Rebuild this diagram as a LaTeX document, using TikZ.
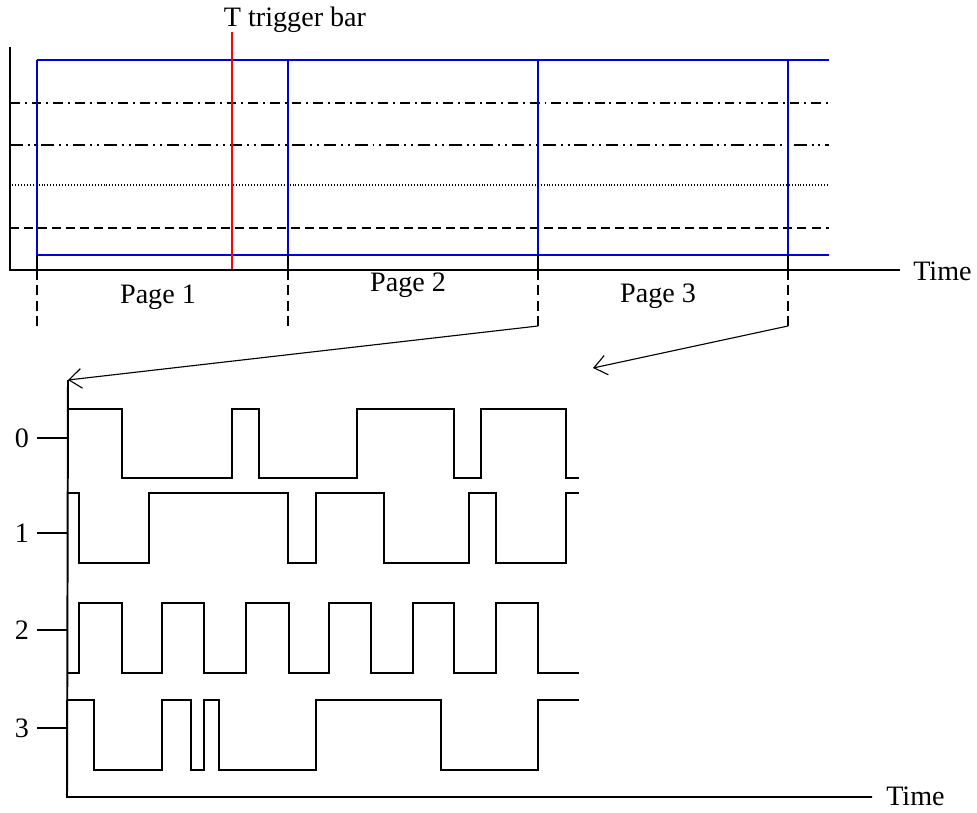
\documentclass[tikz,border=0pt]{standalone}
\usepackage{fontspec}
\setmainfont{Liberation Serif}
\usetikzlibrary{arrows.meta}

\tikzset{
    axe/.style={line width=1.4pt, black},
    page/.style={line width=1pt, blue!85!black},
    signal/.style={line width=1.4pt, black},
    repere/.style={line width=1.4pt, dash pattern=on 7pt off 4pt},
    fleche/.style={line width=0.8pt, -{Straight Barb[length=9pt,width=14pt,line width=0.8pt]}},
    label/.style={font=\fontsize{20}{24}\selectfont, inner sep=0pt}
}

\begin{document}
\begin{tikzpicture}[x=0.025cm, y=-0.025cm]
    \useasboundingbox (0,0) rectangle (977,813);

    % ecran du haut
    \draw[line width=1.4pt, dash pattern=on 7pt off 3.5pt on 1.4pt off 3.5pt] (10,103) -- (829,103);
    \draw[line width=1.4pt, dash pattern=on 9pt off 3.5pt on 1.4pt off 3.5pt on 1.4pt off 3.5pt] (10,145) -- (829,145);
    \draw[line width=0.8pt, dash pattern=on 0.7pt off 1.4pt] (12,185) -- (829,185);
    \draw[line width=1.4pt, dash pattern=on 6.4pt off 3.6pt] (10,228) -- (829,228);

    \draw[page] (37,60) -- (829,60);
    \draw[page] (37,255) -- (829,255);
    \foreach \x/\n in {37/a, 288/b, 538/c, 788/d}
    {
        \draw[page] (\x,60) -- (\x,255);
        \draw[axe] (\x,255) -- (\x,270);
        \coordinate (bord\n) at (\x,270);
        \coordinate (pied\n) at (\x,326);
        \draw[repere] (bord\n) -- (pied\n);
    }

    \draw[line width=1.4pt, red] (232,32) -- (232,270);
    \node[label] (trigger) at (295,20) {T trigger bar};

    \draw[axe] (10,47) -- (10,270) -- (900,270);
    \node[label, anchor=west] (temps1) at (913,271) {Time};

    \node[label] (page1) at (158,297) {Page 1};
    \node[label] (page2) at (408,285) {Page 2};
    \node[label] (page3) at (658,296) {Page 3};

    % zoom sur les pages
    \coordinate (debut) at (68,380);
    \coordinate (fin) at (593,368);
    \draw[fleche] (piedc) -- (debut);
    \draw[fleche] (piedd) -- (fin);

    % chronogramme
    \draw[axe] (debut) -- (67,797) -- (872,797);
    \node[label, anchor=west] (temps2) at (886,796) {Time};
    \foreach \n/\y in {0/438, 1/533, 2/630, 3/728}
    {
        \draw[axe] (37,\y) -- (67,\y);
        \node[label] (voie\n) at (22,\y) {\n};
    }

    \draw[signal] (67,409) -| (122,478) -| (232,409) -| (259,478) -| (357,409) -| (454,478)
        -| (481,409) -| (566,478) -- (579,478);
    \draw[signal] (67,493) -| (79,563) -| (149,493) -| (288,563) -| (316,493) -| (384,563)
        -| (469,493) -| (496,563) -| (566,493) -- (579,493);
    \draw[signal] (67,673) -| (79,603) -| (122,673) -| (162,603) -| (204,673) -| (246,603)
        -| (289,673) -| (329,603) -| (371,673) -| (413,603) -| (454,673) -| (496,603)
        -| (538,673) -- (579,673);
    \draw[signal] (67,700) -| (94,770) -| (162,700) -| (191,770) -| (204,700) -| (219,770)
        -| (316,700) -| (441,770) -| (538,700) -- (579,700);

\end{tikzpicture}
\end{document}
